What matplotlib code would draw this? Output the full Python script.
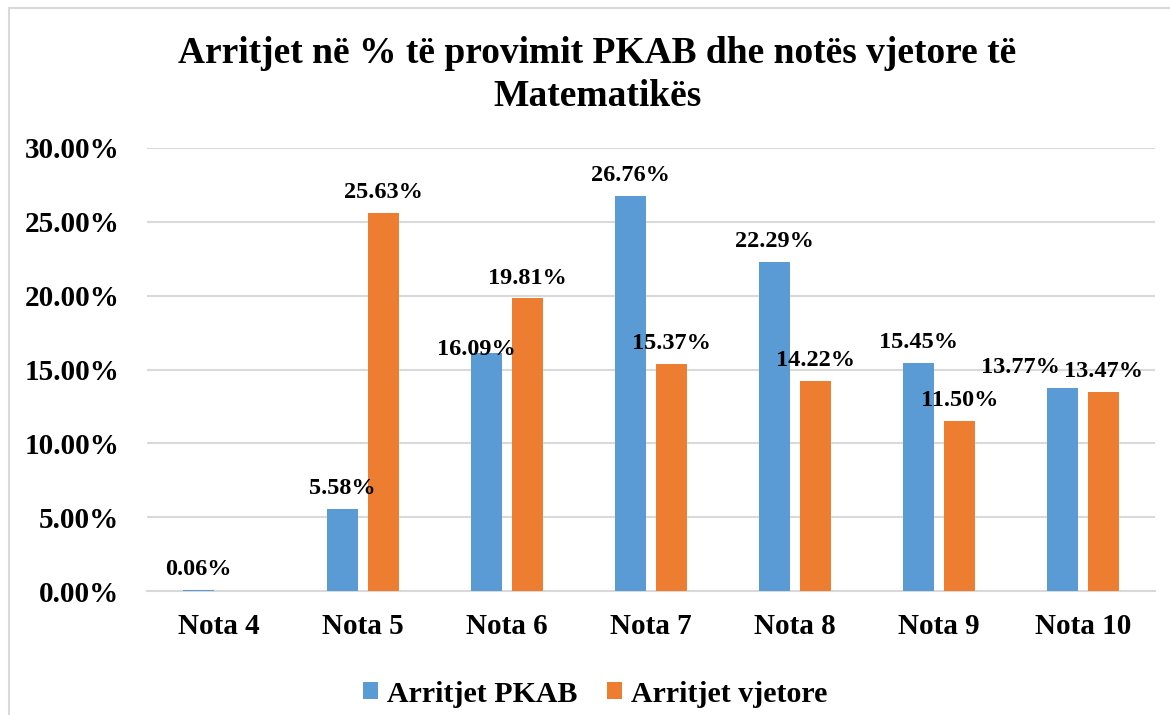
import matplotlib.pyplot as plt
import numpy as np
from matplotlib.patches import Rectangle

# data
categories = ["Nota 4", "Nota 5", "Nota 6", "Nota 7", "Nota 8", "Nota 9", "Nota 10"]
pkab = [0.06, 5.58, 16.09, 26.76, 22.29, 15.45, 13.77]
vjetore = [0.0, 25.63, 19.81, 15.37, 14.22, 11.50, 13.47]
series_names = ["Arritjet PKAB", "Arritjet vjetore"]
title = "Arritjet në % të provimit PKAB dhe notës vjetore të\nMatematikës"

BLUE = "#5B9BD5"
ORANGE = "#ED7D31"
GRID = "#D9D9D9"

plt.rcParams['font.family'] = ['Liberation Serif', 'DejaVu Serif']
plt.rcParams['font.weight'] = 'bold'

fig = plt.figure(figsize=(11.7, 7.15), dpi=100)
W, H = 1170, 715
# axes box in pixels: left 147, right 1155, top 148 (30%), bottom 591 (0%)
ax = fig.add_axes([147 / W, 1 - 591 / H, (1155 - 147) / W, (591 - 148) / H])

# light border round the chart area
fig.patches.append(Rectangle((9 / W, -0.1), 1.2, 1 - 8 / H + 0.1, transform=fig.transFigure,
                             fill=False, edgecolor=GRID, linewidth=1.5))

x = np.arange(len(categories))
bw = 0.22
off = 0.142
b1 = ax.bar(x - off, pkab, bw, color=BLUE, label=series_names[0], zorder=3)
b2 = ax.bar(x + off, vjetore, bw, color=ORANGE, label=series_names[1], zorder=3)

# data labels; a couple were dragged by hand in the original (offsets in points)
base = 7
nudge_pkab = {2: (-7, -12), 6: (-30, 0)}
for i, v in enumerate(pkab):
    dx, dy = nudge_pkab.get(i, (0, 0))
    ax.annotate(f"{v:.2f}%", (x[i] - off, v), xytext=(dx, base + dy),
                textcoords="offset points", ha="center", va="bottom", fontsize=17.5, fontweight="bold")
for i, v in enumerate(vjetore):
    if v == 0:
        continue
    ax.annotate(f"{v:.2f}%", (x[i] + off, v), xytext=(0, base), textcoords="offset points",
                ha="center", va="bottom", fontsize=17.5, fontweight="bold")

ax.set_xlim(-0.5, len(categories) - 0.5)
ax.set_ylim(0, 30)
ax.set_yticks(np.arange(0, 31, 5))
ax.set_yticklabels([f"{t:.2f}%" for t in np.arange(0, 31, 5)], fontsize=21, fontweight="bold")
ax.set_xticks(x)
ax.set_xticklabels(categories, fontsize=21, fontweight="bold")
ax.tick_params(axis="both", length=0)
ax.tick_params(axis="x", pad=16)
ax.tick_params(axis="y", pad=20)
ax.grid(axis="y", color=GRID, linewidth=1.5, zorder=0)
for s in ["top", "right", "left"]:
    ax.spines[s].set_visible(False)
ax.spines["bottom"].set_color(GRID)
ax.spines["bottom"].set_linewidth(1.5)

fig.text(597 / W, 1 - 75 / H, title, ha="center", va="center", fontsize=27, fontweight="bold",
         linespacing=1.3)

fig.legend(handles=[b1, b2], loc="center", bbox_to_anchor=(595 / W, 1 - 694 / H), ncol=2,
           frameon=False, prop={"size": 21.5, "weight": "bold"}, handlelength=0.5, handleheight=0.5,
           handletextpad=0.3, columnspacing=1.0)

fig.savefig("out.png", dpi=100)
